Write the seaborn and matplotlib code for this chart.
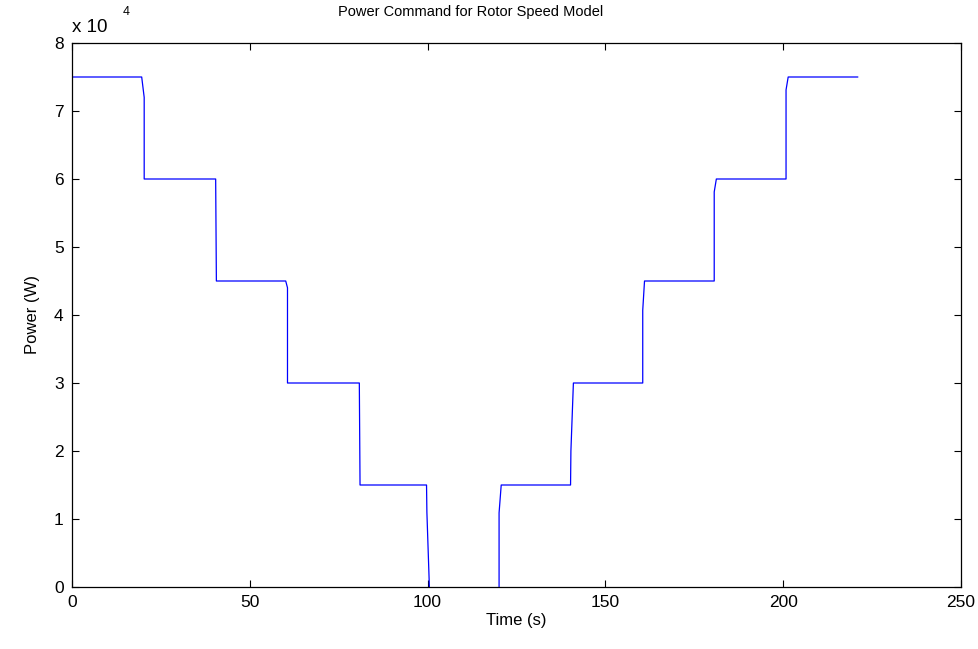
import matplotlib
matplotlib.use("Agg")
import matplotlib.pyplot as plt
import seaborn as sns
import pandas as pd

time_s = [0, 19.6, 20.3, 20.3, 40.4, 40.6, 60.1, 60.6, 60.6, 80.8, 81.0,
          99.7, 99.8, 100.5,
          120.1, 120.1, 120.7, 140.2, 140.3, 141.0,
          160.5, 160.5, 161.0, 180.6, 180.6, 181.2, 200.8, 200.8, 201.4, 221.0]
power_w = [75000, 75000, 72000, 60000, 60000, 45000, 45000, 44000, 30000, 30000, 15000,
           15000, 11000, 0,
           0, 10900, 15000, 15000, 20000, 30000,
           30000, 40700, 45000, 45000, 58100, 60000, 60000, 73100, 75000, 75000]
segment = [0] * 14 + [1] * 16
x_ticks = [0, 50, 100, 150, 200, 250]
y_ticks = [0, 1, 2, 3, 4, 5, 6, 7, 8]

sns.set_theme(style="white")
plt.rcParams['font.family'] = ['Liberation Sans', 'DejaVu Sans']
plt.rcParams['text.color'] = 'black'
plt.rcParams['axes.labelcolor'] = 'black'
plt.rcParams['xtick.color'] = 'black'
plt.rcParams['ytick.color'] = 'black'

df = pd.DataFrame({"t": time_s, "p": [v / 1e4 for v in power_w], "seg": segment})

fig = plt.figure(figsize=(9.79, 6.49), dpi=100)
ax = fig.add_axes([72 / 979, (649 - 587) / 649, (961 - 72) / 979, (587 - 43) / 649])
sns.lineplot(data=df, x="t", y="p", units="seg", sort=False, estimator=None, ax=ax,
             color=(0, 0, 1), linewidth=0.9, zorder=1)

ax.set_xlim(0, 250)
ax.set_ylim(0, 8)
ax.set_xticks(x_ticks)
ax.set_yticks(y_ticks)
ax.set_xticklabels([str(v) for v in x_ticks])
ax.set_yticklabels([str(v) for v in y_ticks])
ax.tick_params(axis='both', which='both', direction='in', length=5, width=0.8,
               color='black', labelcolor='black', labelsize=12.5,
               top=True, right=True, bottom=True, left=True, pad=6)
for s in ax.spines.values():
    s.set_visible(True)
    s.set_color('black')
    s.set_linewidth(0.9)
    s.set_zorder(3)

ax.set_xlabel("Time (s)", fontsize=12, labelpad=2)
ax.set_ylabel("Power (W)", fontsize=12, labelpad=10)

fig.text(471 / 979, 1 - 12 / 649, "Power Command for Rotor Speed Model",
         fontsize=10.5, ha='center', va='center')
fig.text(72 / 979, 1 - 27 / 649, "x 10", fontsize=13.5, ha='left', va='center')
fig.text(123 / 979, 1 - 12 / 649, "4", fontsize=9, ha='left', va='center')

fig.savefig("out.png", dpi=100)
